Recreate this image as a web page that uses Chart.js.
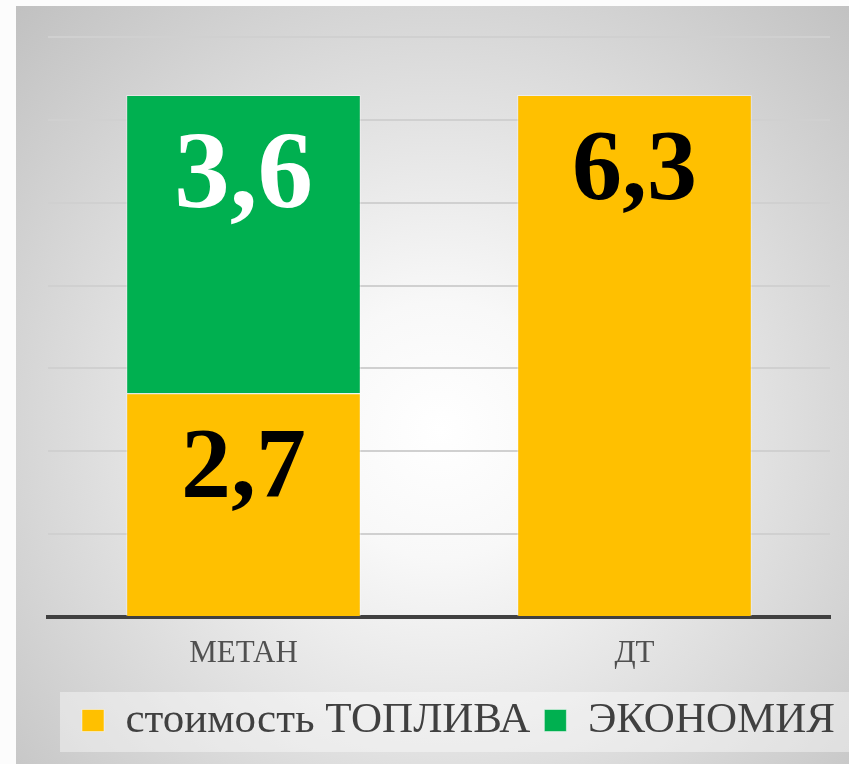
<!DOCTYPE html>
<html>
<head>
<meta charset="utf-8">
<script src="https://cdn.jsdelivr.net/npm/chart.js@4"></script>
<style>
  html, body { margin: 0; padding: 0; background: #fff; }
  canvas { display: block; }
</style>
</head>
<body>
<canvas id="myChart" width="849" height="764"></canvas>
<script>
// data
const categories = ['МЕТАН', 'ДТ'];
const fuel_cost = [2.7, 6.3];
const savings = [3.6, null];
const series_names = ['стоимость ТОПЛИВА', 'ЭКОНОМИЯ'];
const y_min = 0;
const y_max = 7;
const y_step = 1;

const YELLOW = '#FFC000';
const GREEN = '#00B050';
const SERIF = "'Liberation Serif', 'Times New Roman', 'DejaVu Serif', serif";

// grey radial backdrop + the pale strip behind the legend
const backdrop = {
    id: 'backdrop',
    beforeDraw(chart) {
        const ctx = chart.ctx;
        ctx.save();
        ctx.fillStyle = '#fcfcfc';
        ctx.fillRect(0, 0, chart.width, chart.height);
        const g = ctx.createRadialGradient(440, 430, 0, 440, 430, 640);
        g.addColorStop(0, '#ffffff');
        g.addColorStop(0.2, '#f8f8f8');
        g.addColorStop(1, '#bcbcbc');
        ctx.fillStyle = g;
        ctx.fillRect(16, 6, chart.width - 16, chart.height - 6);
        const lg = chart.legend;
        ctx.fillStyle = 'rgba(255,255,255,0.4)';
        ctx.fillRect(60, lg.top + 7, chart.width - 60, 60);
        ctx.restore();
    }
};

// big value labels near the top of each bar segment
const valueLabels = {
    id: 'valueLabels',
    afterDatasetsDraw(chart) {
        const ctx = chart.ctx;
        chart.data.datasets.forEach((ds, i) => {
            const meta = chart.getDatasetMeta(i);
            const st = ds.valueLabel;
            meta.data.forEach((bar, j) => {
                const v = ds.data[j];
                if (v === null || v === undefined) return;
                const top = Math.min(bar.y, bar.base);
                ctx.save();
                ctx.font = 'bold ' + st.size + 'px ' + SERIF;
                ctx.fillStyle = st.color;
                ctx.textAlign = 'center';
                ctx.textBaseline = 'alphabetic';
                ctx.fillText(String(v).replace('.', ','), bar.x, top + st.offset);
                ctx.restore();
            });
        });
    }
};

var context = document.getElementById('myChart');
var myBarChart = new Chart(context, {
    type: 'bar',
    data: {
        labels: categories,
        datasets: [{
            label: series_names[0],
            data: fuel_cost,
            backgroundColor: YELLOW,
            borderColor: 'rgba(255,255,255,0.45)',
            borderWidth: 1,
            valueLabel: { color: '#000', size: 100, offset: 103 }
        }, {
            label: series_names[1],
            data: savings,
            backgroundColor: GREEN,
            borderColor: 'rgba(255,255,255,0.45)',
            borderWidth: 1,
            valueLabel: { color: '#fff', size: 111, offset: 112 }
        }]
    },
    options: {
        responsive: false,
        animation: false,
        categoryPercentage: 1,
        barPercentage: 0.6,
        layout: { padding: { left: 0, right: 0, top: 37, bottom: 12 } },
        plugins: {
            tooltip: { enabled: false },
            legend: {
                position: 'bottom',
                align: 'end',
                labels: {
                    boxWidth: 22,
                    boxHeight: 22,
                    padding: 14,
                    color: '#404040',
                    font: { family: SERIF, size: 43 }
                }
            }
        },
        scales: {
            x: {
                stacked: true,
                grid: { display: false, drawTicks: false },
                border: { display: true, color: '#404040', width: 4 },
                ticks: {
                    padding: 18,
                    color: '#505050',
                    font: { family: SERIF, size: 31 }
                },
                afterFit: scale => { scale.height = 68; }
            },
            y: {
                stacked: true,
                min: y_min,
                max: y_max,
                ticks: { display: false, stepSize: y_step },
                grid: { color: '#d0d0d0', lineWidth: 2, drawTicks: false },
                border: { display: false },
                afterFit: scale => { scale.width = 48; }
            },
            yRight: {
                position: 'right',
                min: y_min,
                max: y_max,
                ticks: { display: false },
                grid: { display: false, drawTicks: false },
                border: { display: false },
                afterFit: scale => { scale.width = 19; }
            }
        }
    },
    plugins: [backdrop, valueLabels]
});
</script>
</body>
</html>
